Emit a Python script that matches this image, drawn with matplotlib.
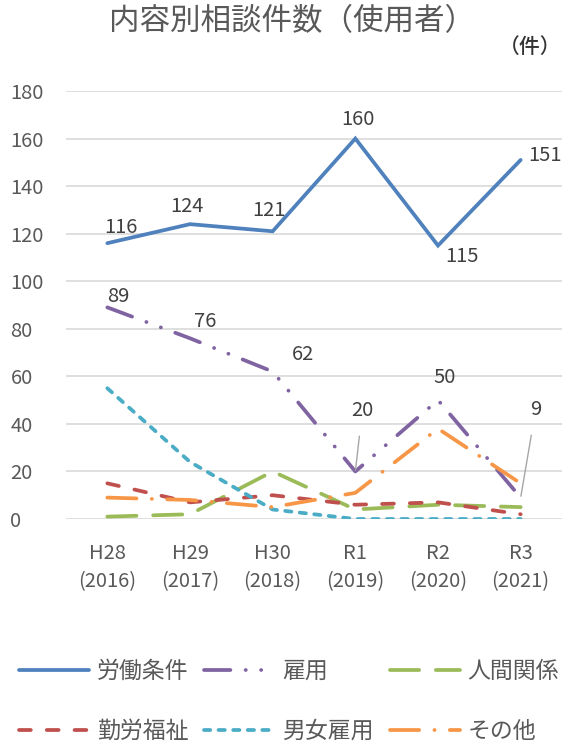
"""Line chart: 内容別相談件数（使用者）."""

import matplotlib

matplotlib.use("Agg")
import matplotlib.pyplot as plt

plt.rcParams["font.family"] = ["Noto Sans CJK JP", "DejaVu Sans"]
plt.rcParams["lines.scale_dashes"] = False

YEARS = ["H28\n(2016)", "H29\n(2017)", "H30\n(2018)", "R1\n(2019)", "R2\n(2020)", "R3\n(2021)"]

ROUDOU = [116, 124, 121, 160, 115, 151]
KOYOU = [89, 76, 62, 20, 50, 9]
NINGEN = [1, 2, 20, 4, 6, 5]
KINROU = [15, 7, 10, 6, 7, 2]
DANJO = [55, 24, 4, 0, 0, 0]
SONOTA = [9, 8, 5, 11, 38, 15]

SERIES_NAMES = ["労働条件", "雇用", "人間関係", "勤労福祉", "男女雇用", "その他"]

# label offsets in pixels (dx, dy), screen y downwards
ROUDOU_OFFSETS = [(14, -16), (-3, -18), (-4, -21), (3, -19), (24, 11), (24, -4)]
KOYOU_OFFSETS = [(11, -11), (15, -17), (30, -17), (7, -61), (7, -23), (15, -88)]
KOYOU_LEADER = [False, False, False, True, False, True]

GRAY = "#595959"
STYLES = [
    dict(color="#4F81BD", ls="-"),
    dict(color="#8064A2", ls=(0, (19, 11, 0.1, 11, 0.1, 11))),
    dict(color="#9BBB59", ls=(0, (21, 12))),
    dict(color="#C0504D", ls=(0, (8.5, 11.5))),
    dict(color="#4BACC6", ls=(0, (4.5, 6))),
    dict(color="#F79646", ls=(0, (21, 11, 0.1, 11))),
]

fig = plt.figure(figsize=(5.64, 7.44), dpi=100)
ax = fig.add_axes([66 / 564, 1 - 519 / 744, 496 / 564, 428 / 744])

x = range(len(YEARS))
lines = []
for vals, name, st in zip([ROUDOU, KOYOU, NINGEN, KINROU, DANJO, SONOTA], SERIES_NAMES, STYLES):
    (ln,) = ax.plot(x, vals, color=st["color"], linestyle=st["ls"], lw=2.7,
                    dash_capstyle="round", solid_capstyle="round",
                    solid_joinstyle="miter", label=name, zorder=3)
    lines.append(ln)

ax.set_xlim(-0.5, len(YEARS) - 0.5)
ax.set_ylim(0, 180)
ax.set_yticks(range(0, 181, 20))
ax.set_xticks(list(x))
ax.set_xticklabels(YEARS, fontsize=14.5, color=GRAY, linespacing=1.5)
ax.tick_params(axis="y", labelsize=14.5, labelcolor=GRAY, length=0, pad=40)
ax.tick_params(axis="x", length=0, pad=17)
for lab in ax.get_yticklabels():
    lab.set_horizontalalignment("left")
ax.yaxis.grid(True, color="#D9D9D9", lw=1.2)
ax.set_axisbelow(True)
for s in ax.spines.values():
    s.set_visible(False)

PX = 0.72  # pixel -> point
for i, (v, (dx, dy)) in enumerate(zip(ROUDOU, ROUDOU_OFFSETS)):
    ax.annotate(str(v), (i, v), xytext=(dx * PX, -dy * PX), textcoords="offset points",
                ha="center", va="center", fontsize=14.5, color="#404040")
for i, (v, (dx, dy), lead) in enumerate(zip(KOYOU, KOYOU_OFFSETS, KOYOU_LEADER)):
    props = None
    if lead:
        props = dict(arrowstyle="-", color="#A6A6A6", lw=1, shrinkA=9, shrinkB=1)
    ax.annotate(str(v), (i, v), xytext=(dx * PX, -dy * PX), textcoords="offset points",
                ha="center", va="center", fontsize=14.5, color="#404040", arrowprops=props)

fig.text(292 / 564, 1 - 22 / 744, "内容別相談件数（使用者）", ha="center", va="center",
         fontsize=22, color=GRAY)
fig.text(530 / 564, 1 - 47 / 744, "（件）", ha="center", va="center",
         fontsize=15, color="#333333", fontweight="medium")

# matplotlib fills legend columns first, reorder so rows read left to right
order = [0, 3, 1, 4, 2, 5]
fig.legend(handles=[lines[k] for k in order], labels=[SERIES_NAMES[k] for k in order],
           ncol=3, loc="center", bbox_to_anchor=(289 / 564, 1 - 701.5 / 744),
           frameon=False, fontsize=16.5, labelcolor=GRAY, handlelength=3.05,
           handletextpad=0.35, columnspacing=0.7, labelspacing=1.62,
           borderpad=0, borderaxespad=0)

fig.savefig("out.png", dpi=100)
